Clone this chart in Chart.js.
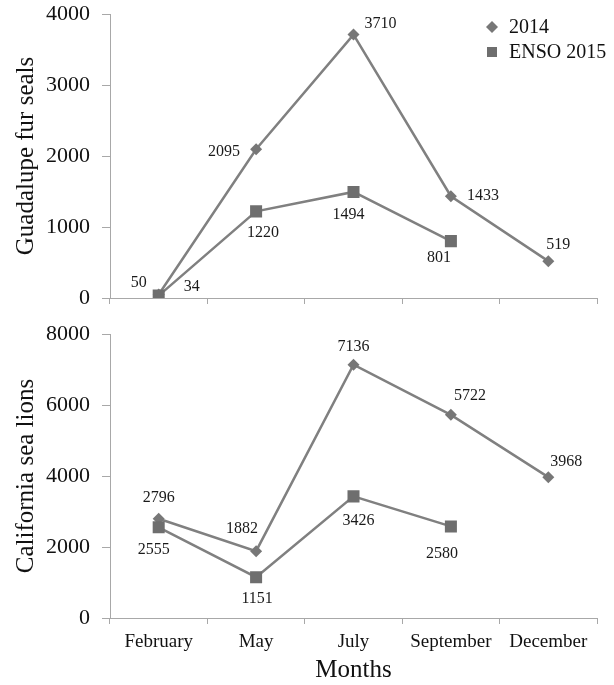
<!DOCTYPE html>
<html>
<head>
<meta charset="utf-8">
<script src="https://cdn.jsdelivr.net/npm/chart.js@4.4.0/dist/chart.umd.min.js"></script>
<style>
  body { margin: 0; background: #fff; }
  #wrap { position: relative; width: 614px; height: 685px; }
  canvas { position: absolute; left: 0; }
</style>
</head>
<body>
<div id="wrap">
  <canvas id="sealsChart" width="614" height="312" style="top:0"></canvas>
  <canvas id="lionsChart" width="614" height="371" style="top:314px"></canvas>
</div>
<script>
// Data
const months = ['February', 'May', 'July', 'September', 'December'];
const seriesNames = ['2014', 'ENSO 2015'];
const seals2014 = [50, 2095, 3710, 1433, 519];
const sealsEnso = [34, 1220, 1494, 801, null];
const lions2014 = [2796, 1882, 7136, 5722, 3968];
const lionsEnso = [2555, 1151, 3426, 2580, null];

// where each value label sits relative to its point (px)
const sealsLabelOff = [
  [[-20, -12], [-32, 3], [27, -11], [32, 0], [10, -16]],
  [[33, -9], [7, 21], [-5, 23], [-12, 17], null]
];
const lionsLabelOff = [
  [[0, -21], [-14, -22], [0, -18], [19, -19], [18, -15]],
  [[-5, 22], [1, 22], [5, 24], [-9, 27], null]
];

const SERIF = '"Liberation Serif", "Times New Roman", serif';
const axisGray = '#a8a8a8';
const lineGray = '#808080';

// draws the numbers next to every point
const valueLabels = {
  id: 'valueLabels',
  afterDatasetsDraw(chart, args, opts) {
    const ctx = chart.ctx;
    ctx.save();
    ctx.font = '16px ' + SERIF;
    ctx.fillStyle = '#1a1a1a';
    ctx.textAlign = 'center';
    ctx.textBaseline = 'middle';
    chart.data.datasets.forEach((ds, i) => {
      const meta = chart.getDatasetMeta(i);
      meta.data.forEach((pt, j) => {
        const v = ds.data[j];
        if (v == null) return;
        const off = opts.offsets[i][j];
        ctx.fillText(String(v), pt.x + off[0], pt.y + off[1]);
      });
    });
    ctx.restore();
  }
};

// small legend in the top right corner
const cornerLegend = {
  id: 'cornerLegend',
  afterDraw(chart, args, opts) {
    if (!opts.show) return;
    const ctx = chart.ctx;
    const x = chart.chartArea.right - 105;
    ctx.save();
    chart.data.datasets.forEach((ds, i) => {
      const y = 27 + i * 25;
      ctx.fillStyle = ds.pointBackgroundColor;
      ctx.beginPath();
      if (ds.pointStyle === 'rectRot') {
        ctx.moveTo(x - 6, y);
        ctx.lineTo(x, y - 6);
        ctx.lineTo(x + 6, y);
        ctx.lineTo(x, y + 6);
        ctx.closePath();
      } else {
        ctx.rect(x - 5, y - 5, 10, 10);
      }
      ctx.fill();
      ctx.font = '20px ' + SERIF;
      ctx.fillStyle = '#111';
      ctx.textAlign = 'left';
      ctx.textBaseline = 'middle';
      ctx.fillText(ds.label, x + 17, y + 1);
    });
    ctx.restore();
  }
};

function makeChart(id, a, b, offsets, yMax, yStep, yTitle, bottom) {
  new Chart(document.getElementById(id), {
    type: 'line',
    data: {
      labels: months,
      datasets: [{
        label: seriesNames[0],
        data: a,
        order: 2,
        borderColor: lineGray,
        borderWidth: 2.5,
        pointStyle: 'rectRot',
        pointRadius: 6,
        pointBackgroundColor: '#777777',
        pointBorderColor: '#777777',
        pointBorderWidth: 0
      }, {
        label: seriesNames[1],
        data: b,
        order: 1,
        borderColor: lineGray,
        borderWidth: 2.5,
        pointStyle: 'rect',
        pointRadius: 8.5,
        pointBackgroundColor: '#6e6e6e',
        pointBorderColor: '#6e6e6e',
        pointBorderWidth: 0
      }]
    },
    options: {
      responsive: false,
      animation: false,
      layout: { padding: { top: bottom ? 20 : 14, right: 17, left: 0, bottom: 0 } },
      plugins: {
        legend: { display: false },
        tooltip: { enabled: false },
        valueLabels: { offsets: offsets },
        cornerLegend: { show: !bottom }
      },
      scales: {
        x: {
          offset: true,
          grid: { drawOnChartArea: false, drawTicks: true, tickLength: 6, color: axisGray, offset: true },
          border: { color: axisGray },
          ticks: {
            display: bottom,
            color: '#111',
            padding: 7,
            maxRotation: 0,
            font: { family: SERIF, size: 19 }
          },
          title: {
            display: bottom,
            text: 'Months',
            color: '#111',
            padding: { top: 2, bottom: 0 },
            font: { family: SERIF, size: 25 }
          },
          afterFit(scale) {
            scale.height = bottom ? 67 : 14;
            scale.paddingLeft = 0;
            scale.paddingRight = 0;
          }
        },
        y: {
          min: 0,
          max: yMax,
          grid: { drawOnChartArea: false, drawTicks: true, tickLength: 8, color: axisGray },
          border: { color: axisGray },
          ticks: {
            stepSize: yStep,
            color: '#111',
            padding: 12,
            font: { family: SERIF, size: 22 },
            callback: v => String(v)
          },
          title: {
            display: true,
            text: yTitle,
            color: '#111',
            padding: { top: 11, bottom: 0 },
            font: { family: SERIF, size: 25 }
          },
          afterFit(scale) {
            scale.width = 110;
            scale.paddingTop = 0;
            scale.paddingBottom = 0;
          }
        }
      }
    },
    plugins: [valueLabels, cornerLegend]
  });
}

makeChart('sealsChart', seals2014, sealsEnso, sealsLabelOff, 4000, 1000, 'Guadalupe fur seals', false);
makeChart('lionsChart', lions2014, lionsEnso, lionsLabelOff, 8000, 2000, 'California sea lions', true);
</script>
</body>
</html>
